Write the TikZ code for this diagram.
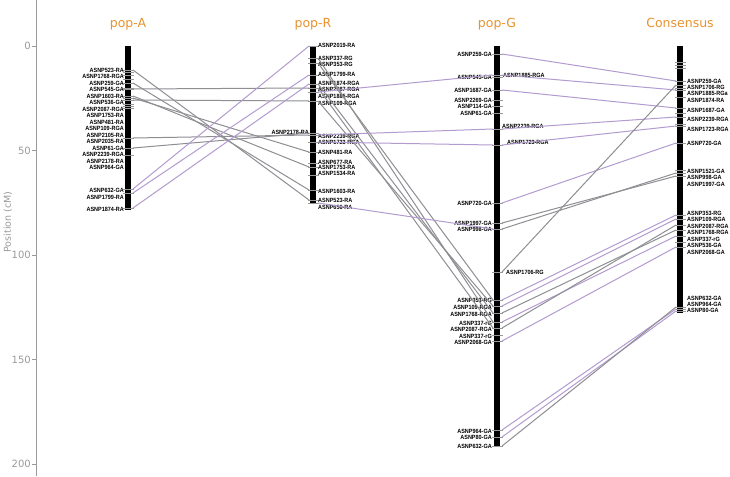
\documentclass[tikz,border=0pt]{standalone}
\usepackage{fontspec}
\setmainfont{DejaVu Sans}
\newfontfamily\lblfont[FakeStretch=0.9]{Liberation Sans}
\definecolor{lgray}{HTML}{8E8E93}
\definecolor{lpurp}{HTML}{B29BCF}
\definecolor{ttl}{HTML}{E8922E}
\definecolor{axg}{HTML}{9A9A9A}
\begin{document}
\begin{tikzpicture}[x=1pt,y=-1pt,
  bar/.style={line width=5.5pt,black},
  tk/.style={draw=gray!80,line width=0.7pt},
  lbl/.style={font=\lblfont\bfseries\fontsize{6.1}{7}\selectfont,inner sep=0pt},
  gl/.style={draw=lgray,line width=1pt},
  pl/.style={draw=lpurp,line width=1pt},
  ttlst/.style={font=\fontsize{12.5}{14}\selectfont,text=ttl,anchor=base},
  axlbl/.style={font=\fontsize{10}{11}\selectfont,text=axg,anchor=east,inner sep=1pt}]
\useasboundingbox (0,0) rectangle (730,476);
% axis
\draw[axg,line width=0.8pt] (36,0) -- (36,476);
\foreach \v in {0,50,100,150,200}{
  \draw[axg,line width=0.8pt] (32,{46+2.09*\v}) -- (36,{46+2.09*\v});
  \node[axlbl] (ax\v) at (32,{46+2.09*\v}) {\v};
}
\node[rotate=90,font=\fontsize{9.5}{10}\selectfont,text=axg] (axt) at (8,222) {Position (cM)};
% titles
\node[ttlst] (tA) at (128,28) {pop-A};
\node[ttlst] (tR) at (313,28) {pop-R};
\node[ttlst] (tG) at (497,28) {pop-G};
\node[ttlst] (tC) at (680,28) {Consensus};
% bars
\draw[bar] (128,46) -- (128,210);
\draw[bar] (313,46) -- (313,204);
\draw[bar] (497,46) -- (497,447);
\draw[bar] (680,46) -- (680,313);
% pop-A
\foreach \n/\t/\l in {523-RA/70/70,1768-RGA/72/76,259-GA/75/83,545-GA/79/89,1603-RA/83/96,536-GA/88/102,2087-RGA/89/109,1753-RA/96/115,481-RA/98/122,109-RGA/100/128,2105-RA/104/135,2035-RA/106/141,61-GA/108/148,2239-RGA/138/154,2178-RA/148/161,964-GA/155/167,632-GA/189/190,1799-RA/193/197,1874-RA/208/209}{
  \draw[tk] (123,\t) -- (134,\t);
  \coordinate (A-\n) at (133,\t);
  \node[lbl,anchor=east] (Al-\n) at (124,\l) {ASNP\n};
}
% pop-R
\foreach \n/\t/\l in {2019-RA/46/45,337-RG/58/58,353-RG/63/64,1799-RA/75/74,1874-RGA/84/83,2087-RGA/88/89,1885-RGA/92/96,109-RGA/101/103,2239-RGA/135/136,1723-RGA/142/142,481-RA/152/152,677-RA/163/162,1753-RA/167/167,1534-RA/175/173,1603-RA/190/191,523-RA/200/200,656-RA/203/207}{
  \draw[tk] (308,\t) -- (319,\t);
  \coordinate (RL-\n) at (309,\t);
  \coordinate (RR-\n) at (318,\t);
  \node[lbl,anchor=west] (Rl-\n) at (318,\l) {ASNP\n};
}
\draw[tk] (308,133) -- (319,133);
\coordinate (RL-2178-RA) at (309,133);
\node[lbl,anchor=east] (Rl-2178-RA) at (309,132) {ASNP2178-RA};
% pop-G
\foreach \n/\t/\l in {259-GA/54/54,545-GA/77/77,1687-GA/90/90,2269-GA/100/100,114-GA/106/106,61-GA/113/113,720-GA/203/203,1997-GA/223/223,998-GA/229/229,353-RG/300/300,109-RGA/306/307,1768-RGA/313/314,337-rG/322/323,2087-RGA/328/329,337-rGb/335/336,2068-GA/341/342,964-GA/430/431,80-GA/437/437,632-GA/446/446}{
  \draw[tk] (492,\t) -- (503,\t);
  \coordinate (GL-\n) at (493,\t);
  \coordinate (GR-\n) at (502,\t);
}
\foreach \n/\l in {259-GA/54,545-GA/77,1687-GA/90,2269-GA/100,114-GA/106,61-GA/113,720-GA/203,1997-GA/223,998-GA/229,353-RG/300,109-RGA/307,1768-RGA/314,337-rG/323,2087-RGA/329,2068-GA/342,964-GA/431,80-GA/437,632-GA/446}{
  \node[lbl,anchor=east] (Gl-\n) at (492,\l) {ASNP\n};
}
\node[lbl,anchor=east] (Gl-337-rGb) at (492,336) {ASNP337-rG};
\foreach \n/\t/\l/\x in {1885-RGA/75/75/503,2239-RGA/129/126/502,1723-RGA/145/142/507,1706-RG/272/272/506}{
  \draw[tk] (492,\t) -- (503,\t);
  \coordinate (GL-\n) at (493,\t);
  \coordinate (GR-\n) at (502,\t);
  \node[lbl,anchor=west] (Gl-\n) at (\x,\l) {ASNP\n};
}
% Consensus
\foreach \n/\t/\l in {259-GA/81/81,1706-RG/85/87,1885-RGa/90/93,1874-RA/97/100,1687-GA/108/110,2239-RGA/117/119,1723-RGA/126/129,720-GA/143/143,1521-GA/170/171,998-GA/173/177,1997-GA/176/184,353-RG/215/213,109-RGA/219/219,2087-RGA/225/226,1768-RGA/230/232,337-rG/236/239,536-GA/242/245,2068-GA/247/252,632-GA/307/298,964-GA/309/304,80-GA/311/310}{
  \draw[tk] (675,\t) -- (686,\t);
  \coordinate (C-\n) at (676,\t);
  \node[lbl,anchor=west] (Cl-\n) at (687,\l) {ASNP\n};
}
\foreach \t in {62,65,68,88,113,124}{\draw[tk] (675,\t) -- (686,\t);}
% links A-R
\draw[gl] (A-523-RA) -- (RL-523-RA);
\draw[gl] (A-1603-RA) -- (RL-1603-RA);
\draw[gl] (A-1753-RA) -- (RL-1753-RA);
\draw[gl] (A-481-RA) -- (RL-481-RA);
\draw[gl] (A-2087-RGA) -- (RL-2087-RGA);
\draw[gl] (A-109-RGA) -- (RL-109-RGA);
\draw[gl] (A-2239-RGA) -- (RL-2239-RGA);
\draw[gl] (A-2178-RA) -- (RL-2178-RA);
\draw[pl] (A-1799-RA) -- (RL-1799-RA);
\draw[pl] (A-1874-RA) -- (RL-1874-RGA);
\draw[pl] (A-632-GA) -- (RL-2019-RA);
% links R-G
\draw[gl] (RR-337-RG) -- (GL-337-rG);
\draw[gl] (RR-353-RG) -- (GL-353-RG);
\draw[gl] (RR-2087-RGA) -- (GL-2087-RGA);
\draw[gl] (RR-109-RGA) -- (GL-109-RGA);
\draw[gl] (RR-1874-RGA) -- (GL-1768-RGA);
\draw[pl] (RR-1885-RGA) -- (GL-1885-RGA);
\draw[pl] (RR-2239-RGA) -- (GL-2239-RGA);
\draw[pl] (RR-1723-RGA) -- (GL-1723-RGA);
\draw[pl] (RR-656-RA) -- (GL-998-GA);
% links G-C
\draw[pl] (GR-259-GA) -- (C-259-GA);
\draw[pl] (GR-1885-RGA) -- (C-1885-RGa);
\draw[pl] (GR-1687-GA) -- (C-1687-GA);
\draw[pl] (GR-2239-RGA) -- (C-2239-RGA);
\draw[pl] (GR-1723-RGA) -- (C-1723-RGA);
\draw[pl] (GR-720-GA) -- (C-720-GA);
\draw[gl] (GR-1997-GA) -- (C-1997-GA);
\draw[gl] (GR-998-GA) -- (C-998-GA);
\draw[gl] (GR-1706-RG) -- (C-1706-RG);
\draw[pl] (GR-353-RG) -- (C-353-RG);
\draw[pl] (GR-109-RGA) -- (C-109-RGA);
\draw[gl] (GR-1768-RGA) -- (C-1768-RGA);
\draw[pl] (GR-337-rG) -- (C-337-rG);
\draw[gl] (GR-2087-RGA) -- (C-2087-RGA);
\draw[pl] (GR-2068-GA) -- (C-2068-GA);
\draw[pl] (GR-964-GA) -- (C-964-GA);
\draw[pl] (GR-80-GA) -- (C-80-GA);
\draw[gl] (GR-632-GA) -- (C-632-GA);
\end{tikzpicture}
\end{document}
